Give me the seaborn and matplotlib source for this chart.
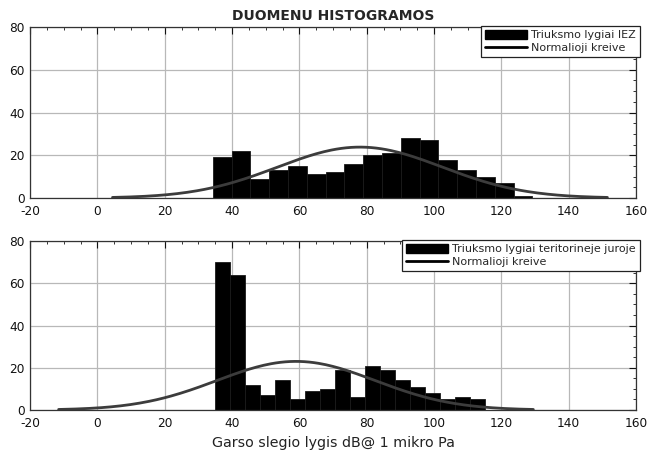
import numpy as np
import pandas as pd
import matplotlib
matplotlib.use("Agg")
import matplotlib.pyplot as plt
from matplotlib.ticker import MultipleLocator
from matplotlib.patches import Patch
from matplotlib.lines import Line2D
import seaborn as sns

sns.set_style("white")
plt.rcParams["font.family"] = ["DejaVu Sans"]
plt.rcParams["axes.unicode_minus"] = False

# Noise levels in the economic zone (IEZ)
iez_start, iez_stop = 34.3, 129.2
iez_counts = [19, 22, 9, 13, 15, 11, 12, 16, 20, 21, 28, 27, 18, 13, 10, 7, 1]
iez_mean, iez_std = 78.0, 24.5

# Noise levels in territorial waters
ter_start, ter_stop = 35.0, 115.0
ter_counts = [70, 64, 12, 7, 14, 5, 9, 10, 19, 6, 21, 19, 14, 11, 8, 5, 6, 5]
ter_mean, ter_std = 59.0, 23.5

x_ticks = [-20, 0, 20, 40, 60, 80, 100, 120, 140, 160]
y_ticks = [0, 20, 40, 60, 80]

title = "DUOMENU HISTOGRAMOS"
x_label = "Garso slegio lygis dB@ 1 mikro Pa"
labels_top = ["Triuksmo lygiai IEZ", "Normalioji kreive"]
labels_bottom = ["Triuksmo lygiai teritorineje juroje", "Normalioji kreive"]

fig = plt.figure(figsize=(6.58, 4.51), dpi=100)
ax_top = fig.add_axes([0.0456, 0.561, 0.921, 0.379])
ax_bot = fig.add_axes([0.0456, 0.0909, 0.921, 0.3747])

curve_color = "#3c3c3c"


def panel(ax, start, stop, counts, mean, std, labels, legend_anchor):
    n_bins = len(counts)
    width = (stop - start) / n_bins
    centers = start + width * (np.arange(n_bins) + 0.5)
    df = pd.DataFrame({"level": centers, "count": counts})
    sns.histplot(data=df, x="level", weights="count", bins=n_bins,
                 binrange=(start, stop), ax=ax,
                 color="black", edgecolor="#1a1a1a", linewidth=0.6,
                 alpha=1.0, zorder=2)
    # fitted normal curve scaled to the histogram, drawn over mean +/- 3 std
    xs = np.linspace(mean - 3 * std, mean + 3 * std, 200)
    ys = sum(counts) * width / (std * np.sqrt(2 * np.pi)) * np.exp(-0.5 * ((xs - mean) / std) ** 2)
    sns.lineplot(x=xs, y=ys, ax=ax, color=curve_color, linewidth=2.0, zorder=3)

    ax.set_xlim(-20, 160)
    ax.set_ylim(0, 80)
    ax.set_xticks(x_ticks)
    ax.set_yticks(y_ticks)
    ax.xaxis.set_minor_locator(MultipleLocator(5))
    ax.yaxis.set_minor_locator(MultipleLocator(5))
    ax.tick_params(which="both", direction="in", top=True, right=True,
                   labelsize=8.7, colors="#111111")
    ax.tick_params(axis="x", which="major", pad=5)
    ax.tick_params(axis="y", which="major", pad=4)
    ax.tick_params(which="major", length=5, width=0.8)
    ax.tick_params(which="minor", length=2.5, width=0.6)
    ax.grid(True, which="major", color="#b8b8b8", linewidth=0.9, zorder=0)
    ax.set_axisbelow(True)
    for s in ax.spines.values():
        s.set_color("#333333")
        s.set_linewidth(0.9)
    ax.set_xlabel("")
    ax.set_ylabel("")
    handles = [Patch(facecolor="black", edgecolor="black"),
               Line2D([], [], color="black", linewidth=2.0)]
    leg = ax.legend(handles, labels, loc="upper right",
                    bbox_to_anchor=legend_anchor, fontsize=8,
                    frameon=True, fancybox=False, framealpha=1,
                    edgecolor="#222222", borderpad=0.35, handlelength=3.8,
                    handleheight=0.9, labelspacing=0.2, handletextpad=0.4,
                    borderaxespad=0.2)
    leg.get_frame().set_linewidth(0.9)


panel(ax_top, iez_start, iez_stop, iez_counts, iez_mean, iez_std,
      labels_top, (1.01, 1.02))
panel(ax_bot, ter_start, ter_stop, ter_counts, ter_mean, ter_std,
      labels_bottom, (1.01, 1.02))

ax_top.set_title(title, fontsize=10, fontweight="bold", pad=5)
ax_bot.set_xlabel(x_label, fontsize=10.3, labelpad=4, color="#222222")

fig.savefig("out.png", dpi=100)
